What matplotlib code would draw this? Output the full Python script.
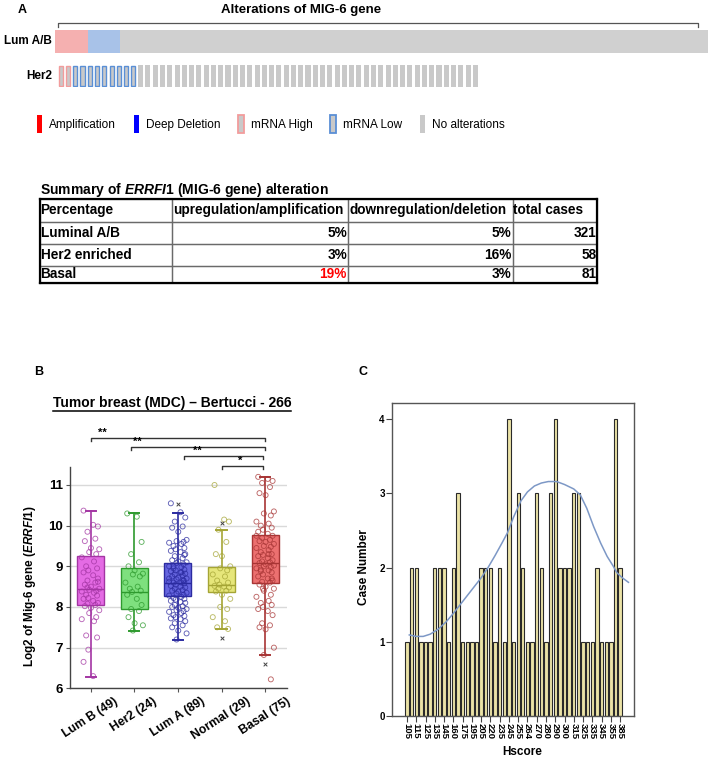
import matplotlib.pyplot as plt
import numpy as np
from matplotlib.lines import Line2D
from matplotlib.patches import Patch
from matplotlib.table import Table
from matplotlib.transforms import ScaledTranslation

plt.rcParams['font.family'] = ['Liberation Sans', 'DejaVu Sans']
plt.rcParams['mathtext.fontset'] = 'custom'
plt.rcParams['mathtext.rm'] = 'Liberation Sans:bold'
plt.rcParams['mathtext.it'] = 'Liberation Sans:italic:bold'
plt.rcParams['mathtext.bf'] = 'Liberation Sans:bold'

# ---- panel A data: oncoprint rows
ROW_NAMES = ["Lum A/B", "Her2"]
ROW_HIGH = [16, 2]     # mRNA High cases
ROW_LOW = [16, 9]      # mRNA Low cases
ROW_TOTAL = [321, 58]

TABLE_HEADER = ["Percentage", "upregulation/amplification", "downregulation/deletion", "total cases"]
TABLE_GROUPS = ["Luminal A/B", "Her2 enriched", "Basal"]
TABLE_UP = ["5%", "3%", "19%"]
TABLE_DOWN = ["5%", "16%", "3%"]
TABLE_TOTAL = ["321", "58", "81"]

# ---- panel B data: box stats + individual values
B_GROUPS = ["Lum B (49)", "Her2 (24)", "Lum A (89)", "Normal (29)", "Basal (75)"]
B_Q1 = [8.04, 7.96, 8.27, 8.37, 8.58]
B_MED = [8.43, 8.37, 8.60, 8.54, 9.09]
B_Q3 = [9.25, 8.97, 9.09, 8.99, 9.77]
B_LO = [6.29, 7.41, 7.19, 7.46, 6.82]
B_HI = [10.37, 10.32, 10.32, 9.89, 11.20]
B_FILL = ["#e46be4", "#7ee07e", "#6666e0", "#e6e67a", "#ec7070"]
B_EDGE = ["#a335a3", "#2e9a2e", "#2b2ba0", "#a5a535", "#a83535"]

LUMB_VALS = [10.37, 10.02, 9.98, 9.85, 9.68, 9.62, 9.45, 9.42, 9.35, 9.3,
             9.22, 9.12, 9.0, 8.95, 8.9, 8.85, 8.78, 8.7, 8.65, 8.6,
             8.55, 8.5, 8.45, 8.42, 8.4, 8.38, 8.35, 8.3, 8.28, 8.22,
             8.2, 8.15, 8.1, 8.08, 8.05, 8.02, 7.98, 7.92, 7.85, 7.75,
             7.7, 7.65, 7.3, 7.25, 6.95, 6.65, 6.3, 8.62, 8.48]
HER2_VALS = [10.3, 10.22, 9.6, 9.3, 9.1, 9.0, 8.9, 8.82, 8.8, 8.75, 8.6, 8.5,
             8.45, 8.4, 8.37, 8.3, 8.2, 8.05, 7.95, 7.9, 7.75, 7.6, 7.55, 7.42]
LUMA_VALS = [10.55, 10.33, 10.2, 10.1, 9.98, 9.95, 9.85, 9.65, 9.62, 9.6,
             9.58, 9.55, 9.5, 9.45, 9.42, 9.38, 9.35, 9.3, 9.25, 9.2,
             9.15, 9.12, 9.1, 9.08, 9.05, 9.0, 8.98, 8.95, 8.92, 8.9,
             8.88, 8.85, 8.82, 8.8, 8.78, 8.75, 8.72, 8.7, 8.68, 8.65,
             8.62, 8.6, 8.6, 8.58, 8.55, 8.52, 8.5, 8.48, 8.45, 8.42,
             8.4, 8.38, 8.35, 8.33, 8.3, 8.28, 8.25, 8.22, 8.2, 8.18,
             8.15, 8.12, 8.1, 8.05, 8.02, 8.0, 7.98, 7.95, 7.92, 7.9,
             7.88, 7.85, 7.8, 7.78, 7.75, 7.72, 7.7, 7.65, 7.6, 7.55,
             7.5, 7.42, 7.35, 7.2, 8.65, 8.7, 8.85, 9.0, 9.28]
NORMAL_VALS = [11.0, 10.15, 10.1, 9.9, 9.6, 9.3, 9.25, 9.0, 8.95, 8.9, 8.8, 8.75,
               8.65, 8.6, 8.55, 8.52, 8.5, 8.48, 8.45, 8.4, 8.38, 8.3, 8.2, 8.0,
               7.95, 7.75, 7.65, 7.5, 7.46]
BASAL_VALS = [11.2, 11.15, 11.1, 11.05, 10.95, 10.8, 10.75, 10.35, 10.3, 10.25,
              10.1, 10.05, 10.0, 9.95, 9.9, 9.85, 9.8, 9.75, 9.7, 9.65,
              9.62, 9.6, 9.55, 9.5, 9.48, 9.45, 9.4, 9.35, 9.3, 9.28,
              9.25, 9.2, 9.15, 9.12, 9.1, 9.08, 9.05, 9.02, 9.0, 8.98,
              8.95, 8.9, 8.88, 8.85, 8.8, 8.75, 8.7, 8.65, 8.62, 8.6,
              8.55, 8.5, 8.45, 8.4, 8.3, 8.25, 8.15, 8.1, 8.05, 8.0,
              7.95, 7.9, 7.8, 7.6, 7.55, 7.5, 7.45, 7.0, 6.82, 6.22,
              9.75, 9.3, 8.92, 8.7, 8.45]
B_VALUES = [LUMB_VALS, HER2_VALS, LUMA_VALS, NORMAL_VALS, BASAL_VALS]
JITTER = [-0.16, 0.06, 0.17, -0.07, 0.11, -0.13, 0.01, 0.2, -0.03, 0.13,
          -0.2, 0.08, -0.1, 0.15, -0.05]
# outliers drawn as "x"
X_OUT_GROUP = [2, 3, 3, 4]
X_OUT_VAL = [10.53, 10.06, 7.23, 6.59]
# significance brackets
SIG_START = [0, 0.92, 2.15, 3.0]
SIG_END = [4.0, 4.0, 3.95, 3.95]
SIG_Y = [12.16, 11.94, 11.71, 11.47]
SIG_TEXT_X = [0.28, 1.08, 2.44, 3.42]
SIG_TEXT = ["**", "**", "**", "*"]

# ---- panel C data
CASES = [1, 2, 2, 1, 1, 1, 2, 2, 2, 1,
         2, 3, 1, 1, 1, 1, 2, 2, 2, 1,
         2, 1, 4, 1, 3, 2, 1, 1, 3, 2,
         1, 3, 4, 2, 2, 2, 3, 3, 1, 1,
         1, 2, 1, 1, 1, 4, 2]
HSCORE_LABELS = ['105', '115', '125', '135', '145', '160', '175', '195', '205', '220',
                 '235', '245', '255', '264', '270', '280', '290', '300', '315', '325',
                 '335', '345', '355', '385']
CURVE_X = [0.5, 2, 3.5, 5, 6.8, 8.5, 10, 11.5, 13, 14.5, 16, 17.5, 19, 20.5, 21.7,
           23, 24.6, 26, 27.5, 29, 30.5, 32.3, 34, 36, 37.4, 38.8, 40.3, 41.8,
           43.2, 44.5, 45.3, 46.5, 47.8]
CURVE_Y = [1.09, 1.07, 1.07, 1.1, 1.17, 1.27, 1.38, 1.5, 1.62, 1.74, 1.86, 2.0,
           2.16, 2.33, 2.47, 2.68, 2.9, 3.02, 3.1, 3.14, 3.16, 3.16, 3.12, 3.06,
           2.98, 2.8, 2.55, 2.33, 2.15, 2.02, 1.93, 1.86, 1.8]

W, H = 708, 757
fig = plt.figure(figsize=(W / 100, H / 100), dpi=100)


def px_axes(x0, y0, x1, y1):
    return fig.add_axes([x0 / W, 1 - y1 / H, (x1 - x0) / W, (y1 - y0) / H])


def fig_line(xs, ys, **kw):
    fig.add_artist(Line2D([x / W for x in xs], [1 - y / H for y in ys],
                          transform=fig.transFigure, **kw))


# ================= panel A =================
fig.text(18 / W, 1 - 10 / H, "A", fontsize=9, weight="bold", ha="left", va="center")
fig.text(301 / W, 1 - 10 / H, "Alterations of MIG-6 gene", fontsize=9.5,
         weight="bold", ha="center", va="center")
fig_line([58, 58, 698, 698], [27, 23, 23, 27], color="#555555", lw=0.9)

GRAY = "#c9c9c9"
PINK = "#f29c9c"
BLUE = "#5a8fd6"
row_boxes = [(55, 30, 712, 53), (57, 65, 479, 87)]
for r in range(2):
    ax = px_axes(*row_boxes[r])
    n = ROW_TOTAL[r]
    idx = np.arange(n)
    hi = idx < ROW_HIGH[r]
    lo = (idx >= ROW_HIGH[r]) & (idx < ROW_HIGH[r] + ROW_LOW[r])
    rest = ~(hi | lo)
    if r == 0:
        ax.bar(idx[hi], 1, width=1.0, color="#f5b0b0", lw=0)
        ax.bar(idx[lo], 1, width=1.0, color="#a8c2e8", lw=0)
        ax.bar(idx[rest], 1, width=1.0, color="#d0d0d0", lw=0)
    else:
        ax.bar(idx[hi], 0.94, bottom=0.03, width=0.56, color=GRAY, edgecolor=PINK, lw=1.0)
        ax.bar(idx[lo], 0.94, bottom=0.03, width=0.56, color=GRAY, edgecolor=BLUE, lw=1.0)
        ax.bar(idx[rest], 1, width=0.7, color=GRAY, lw=0)
    ax.set_xlim(-0.5, n - 0.5)
    ax.set_ylim(0, 1)
    ax.axis("off")
    fig.text(52 / W, 1 - (row_boxes[r][1] + row_boxes[r][3]) / 2 / H, ROW_NAMES[r],
             fontsize=8.5, weight="bold", ha="right", va="center")

handles = [Patch(facecolor="#ff0000", edgecolor="none"),
           Patch(facecolor="#0000ff", edgecolor="none"),
           Patch(facecolor=GRAY, edgecolor=PINK, lw=1.3),
           Patch(facecolor=GRAY, edgecolor=BLUE, lw=1.3),
           Patch(facecolor=GRAY, edgecolor="none")]
fig.legend(handles, ["Amplification", "Deep Deletion", "mRNA High", "mRNA Low", "No alterations"],
           loc="center left", bbox_to_anchor=(31 / W, 1 - 124 / H), ncol=5, frameon=False,
           fontsize=8.5, handlelength=0.45, handleheight=2.0, handletextpad=0.6,
           columnspacing=1.5, borderpad=0)

# ---- table
fig.text(40 / W, 1 - 190 / H, "Summary of $\\mathit{ERRFI1}$ (MIG-6 gene) alteration",
         fontsize=10, weight="bold", ha="left", va="center")
axT = px_axes(39.5, 199, 597, 283)
axT.set_xticks([])
axT.set_yticks([])
for s in axT.spines.values():
    s.set_linewidth(1.6)
    s.set_color("black")
axT.patch.set_alpha(0)
tbl = Table(axT, bbox=[0, 0, 1, 1])
col_w = [132, 176, 164, 84]
row_h = [22.7, 21.6, 21.7, 17.3]
rows = [TABLE_HEADER] + [[TABLE_GROUPS[i], TABLE_UP[i], TABLE_DOWN[i], TABLE_TOTAL[i]]
                         for i in range(3)]
for i, row in enumerate(rows):
    for j, txt in enumerate(row):
        loc = "left" if (i == 0 or j == 0) else "right"
        c = tbl.add_cell(i, j, col_w[j], row_h[i], text=txt, loc=loc,
                         edgecolor="#6a6a6a", facecolor="none")
        c.set_linewidth(0.9)
        c.PAD = 0.008
        color = "red" if (i == 3 and j == 1) else "black"
        c.get_text().set_color(color)
        c.get_text().set_fontweight("bold")
tbl.auto_set_font_size(False)
tbl.set_fontsize(9.8)
axT.add_table(tbl)

# ================= panel B =================
fig.text(39 / W, 1 - 372 / H, "B", fontsize=9, weight="bold", ha="center", va="center")
t = fig.text(172 / W, 1 - 403 / H, "Tumor breast (MDC) \u2013 Bertucci - 266",
             fontsize=10, weight="bold", ha="center", va="center")
fig.canvas.draw()
bb = t.get_window_extent()
fig.add_artist(Line2D([bb.x0 / W, bb.x1 / W], [(bb.y0 - 0.5) / H] * 2,
                      transform=fig.transFigure, color="black", lw=1.1))

axB = px_axes(70, 466.7, 287, 688.3)
stats = [dict(med=B_MED[i], q1=B_Q1[i], q3=B_Q3[i], whislo=B_LO[i], whishi=B_HI[i],
              fliers=[]) for i in range(5)]
bp = axB.bxp(stats, positions=range(5), widths=0.62, patch_artist=True,
             showfliers=False, capwidths=0.23)
for i in range(5):
    bp["boxes"][i].set(facecolor=B_FILL[i], edgecolor=B_EDGE[i], lw=1.0, zorder=2)
    bp["medians"][i].set(color=B_EDGE[i], lw=1.0, zorder=4)
    for k in (2 * i, 2 * i + 1):
        bp["whiskers"][k].set(color=B_EDGE[i], lw=1.2, zorder=1)
        bp["caps"][k].set(color=B_EDGE[i], lw=1.4, zorder=1)
    vals = np.array(B_VALUES[i])
    jit = np.array([JITTER[k % len(JITTER)] for k in range(len(vals))])
    axB.scatter(i + jit, vals, s=13, facecolors="none", edgecolors=B_EDGE[i],
                linewidths=0.65, alpha=0.75, zorder=5)
axB.scatter(X_OUT_GROUP, X_OUT_VAL, marker="x", s=7, color="#444444", lw=0.7, zorder=6)

for k in range(4):
    axB.plot([SIG_START[k], SIG_START[k], SIG_END[k], SIG_END[k]],
             [SIG_Y[k] - 0.07, SIG_Y[k], SIG_Y[k], SIG_Y[k] - 0.07],
             color="#333333", lw=1.0, clip_on=False)
    axB.text(SIG_TEXT_X[k], SIG_Y[k] + 0.01, SIG_TEXT[k], fontsize=8, weight="bold",
             ha="center", va="bottom", clip_on=False)

axB.set_xlim(-0.47, 4.5)
axB.set_ylim(6, 11.45)
axB.set_yticks([6, 7, 8, 9, 10, 11])
axB.yaxis.grid(True, color="#d9d9d9", lw=1.0)
axB.set_axisbelow(True)
axB.set_xticks(range(5))
axB.set_xticklabels(B_GROUPS, rotation=33, ha="center", fontsize=8.8, weight="bold")
shift = ScaledTranslation(-10 / 100, 0, fig.dpi_scale_trans)
for lab in axB.get_xticklabels():
    lab.set_transform(lab.get_transform() + shift)
for lab in axB.get_yticklabels():
    lab.set_fontsize(9.5)
    lab.set_fontweight("bold")
axB.tick_params(axis="x", length=3, color="#555555", pad=2)
axB.tick_params(axis="y", length=3, color="#555555", pad=2)
for s in ["top", "right"]:
    axB.spines[s].set_visible(False)
for s in ["left", "bottom"]:
    axB.spines[s].set_color("#444444")
    axB.spines[s].set_linewidth(1.0)
axB.set_ylabel("Log2 of Mig-6 gene ($\\mathit{ERRFI1}$)", fontsize=8.5, weight="bold")
axB.yaxis.set_label_coords(-0.147, 0.46)

# ================= panel C =================
fig.text(362.7 / W, 1 - 372 / H, "C", fontsize=9, weight="bold", ha="center", va="center")
axC = px_axes(391.7, 403, 634, 715.7)
idx = np.arange(len(CASES))
axC.bar(idx, CASES, width=0.72, color="#ebe3a6", edgecolor="#2a2a2a", lw=0.8)
axC.plot(CURVE_X, CURVE_Y, color="#7d98c6", lw=1.1)
axC.set_xlim(-3.3, 49)
axC.set_ylim(0, 4.22)
axC.set_xticks(idx[::2])
axC.set_xticklabels(HSCORE_LABELS, rotation=270, fontsize=6.8, weight="bold")
axC.set_yticks([0, 1, 2, 3, 4])
for lab in axC.get_yticklabels():
    lab.set_fontsize(7)
    lab.set_fontweight("bold")
axC.tick_params(axis="both", length=4, color="#444444", pad=1)
for s in axC.spines.values():
    s.set_color("#555555")
    s.set_linewidth(1.0)
axC.set_ylabel("Case Number", fontsize=8.5, weight="bold")
axC.yaxis.set_label_coords(-0.09, 0.476)
axC.set_xlabel("Hscore", fontsize=8.5, weight="bold", va="center")
axC.xaxis.set_label_coords(0.537, -0.115)

fig.savefig("out.png", dpi=100)
